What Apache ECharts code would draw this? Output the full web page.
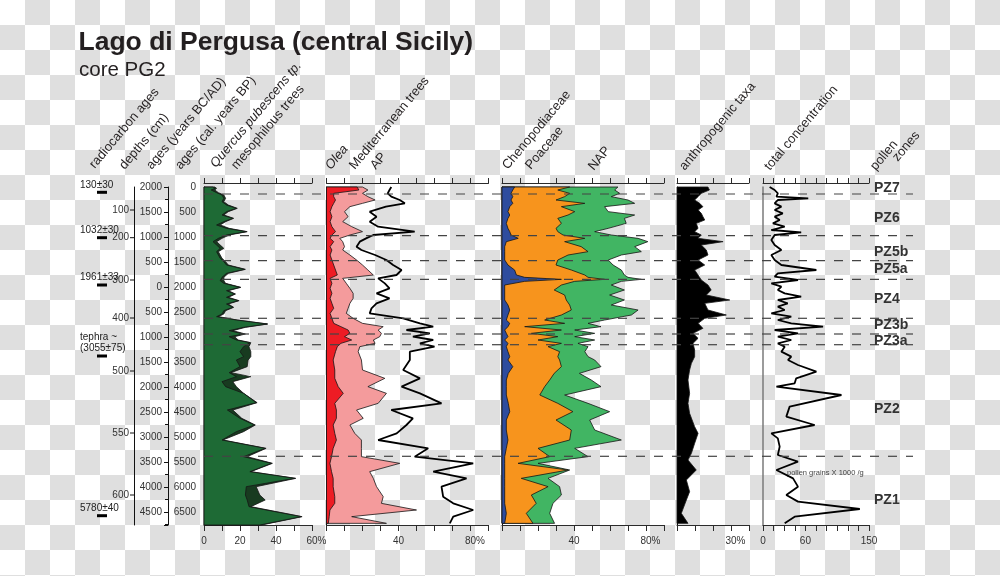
<!DOCTYPE html>
<html>
<head>
<meta charset="utf-8">
<script src="https://cdn.jsdelivr.net/npm/echarts@6/dist/echarts.min.js"></script>
<style>
  html, body { margin: 0; padding: 0; }
  body {
    width: 1000px; height: 576px;
    background-color: #fff;
    background-image: conic-gradient(#dfdfdf 25%, transparent 0 50%, #dfdfdf 0 75%, transparent 0);
    background-size: 50px 50px;
  }
  #chart-root { width: 1000px; height: 576px; }
</style>
</head>
<body>
<div id="chart-root"></div>
<script>
const FONT = '"Liberation Sans", Arial, Helvetica, sans-serif'
const AGE_MAX = 6760 // cal. years BP at the bottom axis

// Quercus pubescens tp. / mesophilous trees (%)
const quercusAges = [0, 27, 60, 113, 160, 227, 293, 360, 427, 493, 560, 627, 693, 760, 827, 893, 960, 1027, 1093, 1160,
  1227, 1293, 1360, 1427, 1493, 1560, 1647, 1727, 1807, 1873, 1927, 2007, 2073, 2140, 2207, 2273, 2340, 2407, 2473, 2540,
  2593, 2660, 2740, 2807, 2873, 2940, 2993, 3060, 3113, 3193, 3293, 3393, 3460, 3593, 3713, 3793, 3893, 3993, 4127, 4313,
  4460, 4627, 4760, 4893, 5060, 5227, 5393, 5527, 5693, 5827, 5993, 6160, 6260, 6393, 6593, 6760]
const quercus = [5, 6, 4, 7, 10, 11, 10, 12.5, 18, 12.5, 10, 16, 11, 7, 12.5, 23.5, 12.5, 8, 5, 7,
  9, 7, 8, 9, 11, 12.5, 22.5, 12.5, 10, 9, 11, 20, 12.5, 17, 12.5, 19, 12.5, 16, 11, 10,
  7, 18, 35, 22, 14, 22, 14, 18, 25.5, 22, 20, 22, 18, 20, 14, 18, 10, 12, 22, 29,
  13, 20, 28, 18, 10, 34, 22, 37.5, 25.5, 50.5, 23.5, 23, 24, 25, 54, 31]
const mesophilous = [6, 7, 6, 8, 11, 12, 11, 13.5, 18.5, 13.5, 11, 16.5, 12, 9, 14, 24, 14, 10, 7, 9,
  11, 8, 9, 10, 12, 13.5, 23, 13.5, 11, 11, 12, 20.5, 13.5, 17.5, 13.5, 19.5, 13.5, 16.5, 12, 11,
  8, 18.5, 35.5, 23, 16, 23, 17, 19, 26, 25, 26, 26, 24.5, 24, 15, 26, 16, 18, 22, 29.5,
  16, 21, 28.5, 22, 10.5, 34.5, 24, 38, 26, 51, 29, 31, 34, 26, 54.5, 32]

// Olea / Mediterranean trees / AP (%)
const medAges = [0, 60, 127, 193, 260, 327, 393, 493, 593, 693, 793, 893, 960, 1027, 1093, 1193, 1260, 1360, 1460, 1560,
  1660, 1760, 1827, 1927, 2027, 2127, 2227, 2327, 2427, 2527, 2627, 2727, 2793, 2860, 2927, 2993, 3060, 3127, 3193, 3293,
  3460, 3660, 3827, 3993, 4127, 4327, 4460, 4627, 4760, 4927, 5060, 5227, 5393, 5527, 5693, 5827, 5993, 6193, 6327, 6460,
  6593, 6727]
const olea = [17, 18, 4, 4, 5, 4, 3, 2, 3, 2, 3, 5, 3, 2, 4, 2, 3, 2, 3, 4,
  5, 6, 2, 3, 2, 3, 2, 3, 4, 2, 3, 4, 8, 12, 13, 10, 14, 8, 6, 5,
  3.7, 4.6, 4.6, 6.5, 9.3, 4.6, 5.5, 5.5, 3.7, 4.6, 5.5, 3.7, 2.8, 1.9, 2.8, 3.7, 3.7, 4.6, 4.6, 1.9,
  1.5, 1]
const medTrees = [20, 23, 20, 23, 27, 20, 13, 10, 12, 9, 14, 20, 13, 7.4, 9, 10, 9, 13, 16.7, 20,
  23, 26, 9, 11, 13, 14.8, 14.8, 13, 12, 11, 14.8, 20, 31.5, 28.7, 30.5, 29.6, 26, 27, 18.5, 17.6,
  19.4, 20, 32.4, 23, 33.3, 28.7, 16.7, 20.4, 13, 15.7, 19.4, 19.4, 19.4, 40.7, 24, 26, 27.8, 31.5, 30.5, 50,
  14, 33.3]
const ap = [36, 35, 34, 36, 40.7, 43.5, 33, 24, 27.8, 24, 28.7, 49, 26, 22, 18.5, 16.7, 19.4, 27, 33.3, 37,
  41.7, 38.9, 28.7, 32.4, 35, 27.8, 35, 27.8, 25, 24, 42.6, 51.9, 59.3, 44.4, 57.4, 48, 59.3, 51.9, 60, 46.3,
  46.3, 42.6, 51.9, 41.7, 51.9, 63.9, 36, 48, 44.4, 39, 28.7, 56.5, 49, 81.5, 59.3, 77.8, 63.9, 64.8, 70.4, 81.5,
  70.4, 68.5]

// Chenopodiaceae / Poaceae (stacked on Cheno.) / NAP (%)
const napAges = [0, 60, 127, 193, 260, 327, 393, 493, 560, 627, 727, 827, 893, 960, 1027, 1093, 1193, 1293, 1360, 1460,
  1560, 1660, 1760, 1807, 1847, 1887, 1960, 2060, 2160, 2260, 2360, 2460, 2560, 2660, 2727, 2793, 2860, 2927, 2993, 3060,
  3127, 3193, 3293, 3393, 3460, 3593, 3727, 3860, 3993, 4160, 4327, 4493, 4660, 4860, 5060, 5227, 5393, 5527, 5660, 5827,
  5993, 6160, 6327, 6527, 6727]
const cheno = [7, 6, 5, 6, 5, 6, 4.3, 3.3, 4.3, 3.3, 2.4, 3.3, 4.3, 5, 9, 2.4, 1.5, 1.5, 1.5, 1.5,
  3.3, 7, 8, 12.6, 33, 12.6, 1.5, 1.5, 1.5, 1.5, 3.3, 4.3, 3.3, 2.4, 4.3, 3.3, 1.5, 2.4, 3.3, 1.5,
  3.3, 2.4, 3.3, 4.3, 3.3, 6, 3.5, 2.4, 2.4, 2.4, 3.5, 4.3, 2.4, 2.4, 3.3, 2.4, 1.5, 1.5, 1.5, 1.5,
  1.5, 1.5, 1.5, 2.4, 1.5]
const chenoPoaceae = [37.6, 31, 37.6, 34.8, 30, 46, 33, 40.4, 36.7, 31, 33, 30, 31, 33.9, 46, 34.8, 44, 47.8, 36.7, 31,
  30, 38.5, 46, 47.8, 57, 40.4, 33, 29, 34.8, 35.7, 37.6, 38.5, 33, 23.7, 34.8, 12.6, 33, 16.3, 31, 20,
  33, 25.6, 32, 31, 32, 33, 29, 26.5, 23.7, 21, 31, 39.4, 30, 38.5, 37.6, 20, 26.5, 8.9, 36.7, 10.7,
  25.6, 16.3, 19, 13.5, 17.2]
const nap = [64.4, 62.6, 65.4, 60.7, 70, 73.7, 57, 59, 73.7, 68, 69, 59, 51.5, 60.7, 75.6, 81, 73.7, 77.4, 66.3, 59,
  61.7, 66.3, 68, 70, 77.4, 66.3, 60.7, 68, 59.8, 68, 60.7, 75.6, 71.9, 57, 47.8, 55, 40.4, 51.5, 40.4, 51.5,
  42.2, 47.8, 46, 47.8, 51.5, 55, 43, 49.6, 55, 34.8, 47.8, 59.8, 48.7, 51.5, 66.3, 40.4, 47.8, 20, 37.6, 25.6,
  32, 33, 28.3, 26.5, 29.2]

// anthropogenic taxa (%)
const anthroAges = [0, 60, 127, 193, 260, 327, 393, 460, 527, 593, 660, 727, 827, 893, 960, 1027, 1093, 1160, 1260, 1360,
  1460, 1560, 1660, 1760, 1860, 1960, 2060, 2160, 2260, 2327, 2460, 2560, 2627, 2727, 2827, 2927, 3027, 3127, 3260, 3393,
  3527, 3660, 3860, 4127, 4327, 4527, 4793, 4927, 5127, 5327, 5460, 5660, 5860, 6093, 6260, 6527, 6727]
const anthro = [17.2, 18, 13.5, 11.7, 9.8, 12.6, 14.4, 11.7, 13.5, 14.4, 15.4, 10.7, 11.7, 9.8, 13.5, 11.7, 25.6, 13.5, 16.3, 17.2,
  11.7, 15.4, 9.8, 11.7, 13.5, 17.2, 19, 16.3, 29.3, 15.4, 17.2, 27.4, 15.4, 11.7, 14.4, 8.9, 11.7, 8.9, 9.8, 9.8,
  8, 7, 6.1, 7, 6.1, 7, 9.8, 11.7, 9.8, 8, 6.1, 10.7, 5.2, 7, 5.2, 2.4, 6.1]

// total concentration (pollen grains x 1000 /g)
const concAges = [0, 60, 127, 193, 227, 260, 327, 393, 460, 527, 593, 660, 727, 793, 860, 907, 960, 1060, 1160, 1260,
  1360, 1460, 1560, 1660, 1727, 1793, 1860, 1927, 1993, 2060, 2127, 2193, 2260, 2327, 2393, 2460, 2527, 2593, 2660, 2727,
  2793, 2860, 2927, 2993, 3060, 3127, 3193, 3293, 3393, 3460, 3560, 3693, 3827, 3927, 3993, 4160, 4393, 4593, 4760, 4927,
  5027, 5193, 5360, 5493, 5660, 5827, 5993, 6160, 6293, 6440, 6593, 6727]
const conc = [9.4, 16.5, 21, 19, 64, 21, 16.5, 26, 16.5, 28, 16.5, 23.6, 14, 30.7, 11.8, 54, 16.5, 11.8, 16.5, 26,
  11.8, 16.5, 26, 75.5, 21, 16.5, 49.5, 11.8, 26, 21, 30.7, 54, 21, 35, 21, 30.7, 11.8, 40, 21, 40,
  85, 16.5, 49.5, 21, 40, 21, 30.7, 26, 40, 35.4, 49.5, 75.5, 47, 44.8, 19, 111, 37.7, 33, 73, 11.8,
  21, 23.6, 21, 49.5, 19, 42.5, 49.5, 33, 49.5, 137, 44.8, 30.7]

// pollen zones
const zoneBounds = [140, 974, 1474, 1846, 2626, 2940, 3154, 5386]
const zoneNames = ['PZ7', 'PZ6', 'PZ5b', 'PZ5a', 'PZ4', 'PZ3b', 'PZ3a', 'PZ2', 'PZ1']
const zoneLabelAges = [26, 626, 1294, 1646, 2246, 2760, 3074, 4446, 6260]

// depth scale (cm) and the cal. BP age where each tick sits
const depthTicks = [100, 200, 300, 400, 500, 550, 600]
const depthTickAges = [460, 1014, 1860, 2620, 3680, 4920, 6160]

// radiocarbon dates
const c14Labels = ['130±30', '1032±30', '1961±33', 'tephra ~\n(3055±75)', '5780±40']
const c14Ages = [106, 1014, 1960, 3380, 6574]

// bottom tick labels of each panel
const quercusTicks = ['0', '', '20', '', '40', '', '60%']
const apTicks = ['', '', '', '', '40', '', '', '', '80%', '']
const napTicks = ['', '', '', '', '40', '', '', '', '80%', '']
const anthroTicks = ['', '', '', '30%', '']
const concTicks = ['0', '', '', '', '60', '', '', '', '', '', '150']

const panels = [
  {left: 204, width: 108, max: 60, step: 10, labels: quercusTicks},
  {left: 326.5, width: 162, max: 90, step: 10, labels: apTicks},
  {left: 502, width: 162, max: 90, step: 10, labels: napTicks},
  {left: 677, width: 72, max: 40, step: 10, labels: anthroTicks},
  {left: 763, width: 106, max: 150, step: 15, labels: concTicks}
]

const headers = [
  ['radiocarbon ages', 97, 171, false],
  ['depths (cm)', 127, 172, false],
  ['ages (years BC/AD)', 154, 172, false],
  ['ages (cal. years BP)', 183, 172, false],
  ['Quercus pubescens tp.', 218, 170, true],
  ['mesophilous trees', 239, 172, false],
  ['Olea', 333, 172, true],
  ['Mediterranean trees', 357, 172, false],
  ['AP', 378, 172, false],
  ['Chenopodiaceae', 510, 172, false],
  ['Poaceae', 533, 172, false],
  ['NAP', 596, 173, false],
  ['anthropogenic taxa', 687, 173, false],
  ['total concentration', 772, 173, false],
  ['pollen', 878, 173, false],
  ['zones', 900, 164, false]
]

const TOP = 187
const BOTTOM = 51
const AXIS_COLOR = '#2b2b2b'
const LABEL_COLOR = '#333'

function ageAxis (gridIndex, extra) {
  return Object.assign({
    gridIndex,
    type: 'value',
    min: 0,
    max: AGE_MAX,
    interval: 500,
    inverse: true,
    axisLine: {show: false, onZero: false},
    axisTick: {show: false},
    axisLabel: {show: false},
    splitLine: {show: false}
  }, extra || {})
}

function hiddenX (gridIndex) {
  return {gridIndex, type: 'value', min: 0, max: 1, show: false, splitLine: {show: false}}
}

// filled curve drawn as one polygon, closed back to the zero line
function areaSeries (vals, ages, color, xAxisIndex, yAxisIndex) {
  return {
    type: 'custom',
    xAxisIndex,
    yAxisIndex,
    silent: true,
    z: 2,
    data: ages.map((a, i) => [vals[i], a]),
    renderItem: (params, api) => {
      if (params.dataIndex !== 0) return null
      let pts = [api.coord([0, ages[0]])]
      ages.forEach((a, i) => pts.push(api.coord([vals[i], a])))
      pts.push(api.coord([0, ages[ages.length - 1]]))
      return {
        type: 'polygon',
        shape: {points: pts},
        style: {fill: color, stroke: '#151515', lineWidth: 0.8}
      }
    }
  }
}

function curveSeries (vals, ages, xAxisIndex, yAxisIndex) {
  return {
    type: 'line',
    xAxisIndex,
    yAxisIndex,
    silent: true,
    z: 3,
    showSymbol: false,
    data: ages.map((a, i) => [vals[i], a]),
    lineStyle: {color: '#000', width: 1.8}
  }
}

let grid = []
let xAxis = []
let yAxis = []

panels.forEach((p, i) => {
  grid.push({left: p.left, width: p.width, top: TOP, bottom: BOTTOM})
  let common = {
    gridIndex: i,
    type: 'value',
    min: 0,
    max: p.max,
    interval: p.step,
    splitLine: {show: false},
    axisLine: {onZero: false, lineStyle: {color: AXIS_COLOR, width: 1}}
  }
  xAxis.push(Object.assign({}, common, {
    position: 'top',
    offset: 4,
    axisTick: {length: 5, lineStyle: {color: AXIS_COLOR}},
    axisLabel: {show: false}
  }))
  xAxis.push(Object.assign({}, common, {
    position: 'bottom',
    axisTick: {length: 6, lineStyle: {color: AXIS_COLOR}},
    axisLabel: {
      fontSize: 10,
      fontFamily: FONT,
      color: LABEL_COLOR,
      margin: 11,
      formatter: v => {
        let s = p.labels[Math.round(v / p.step)] || ''
        return s.endsWith('%') ? '{p|' + s + '}' : s
      },
      rich: {p: {padding: [0, 0, 0, 9], fontSize: 10, fontFamily: FONT, color: LABEL_COLOR}}
    }
  }))
  yAxis.push(ageAxis(i, {
    axisLine: {
      show: true,
      onZero: false,
      lineStyle: {color: i === 4 ? '#7a7a7a' : '#111', width: i === 4 ? 1.5 : 1}
    },
    axisLabel: {
      show: i === 0,
      fontSize: 10,
      fontFamily: FONT,
      color: LABEL_COLOR,
      margin: 8,
      formatter: v => (v % 500 ? '' : String(v))
    }
  }))
})

// 5: overlay for zone boundaries, 6: zone labels, 7: BC/AD scale, 8: depth scale, 9: radiocarbon dates
grid.push({left: 204, width: 709, top: TOP, bottom: BOTTOM})
grid.push({left: 874, width: 40, top: TOP, bottom: BOTTOM})
grid.push({left: 168, width: 10, top: TOP, bottom: BOTTOM})
grid.push({left: 134, width: 10, top: TOP, bottom: BOTTOM})
grid.push({left: 80, width: 40, top: TOP, bottom: BOTTOM})
for (let g = 5; g <= 9; g++) xAxis.push(hiddenX(g))
yAxis.push(ageAxis(5))
yAxis.push(ageAxis(6))
yAxis.push(ageAxis(7, {
  axisLine: {show: true, onZero: false, lineStyle: {color: '#111'}},
  axisTick: {show: true, length: 4, lineStyle: {color: '#111'}},
  minorTick: {show: true, splitNumber: 2, length: 3, lineStyle: {color: '#111'}},
  axisLabel: {
    show: true,
    fontSize: 10,
    fontFamily: FONT,
    color: LABEL_COLOR,
    margin: 6,
    formatter: v => (v % 500 ? '' : String(Math.abs(2000 - v)))
  }
}))
yAxis.push(ageAxis(8, {axisLine: {show: true, onZero: false, lineStyle: {color: '#111'}}}))
yAxis.push(ageAxis(9))

let series = [
  areaSeries(mesophilous, quercusAges, '#183b20', 1, 0),
  areaSeries(quercus, quercusAges, '#1e6a35', 1, 0),
  areaSeries(medTrees, medAges, '#f49b9c', 3, 1),
  areaSeries(olea, medAges, '#ed1c24', 3, 1),
  curveSeries(ap, medAges, 3, 1),
  areaSeries(nap, napAges, '#41b563', 5, 2),
  areaSeries(chenoPoaceae, napAges, '#f7941d', 5, 2),
  areaSeries(cheno, napAges, '#2e4c9e', 5, 2),
  areaSeries(anthro, anthroAges, '#000', 7, 3),
  curveSeries(conc, concAges, 9, 4),
  {
    // zone boundaries
    type: 'custom',
    xAxisIndex: 10,
    yAxisIndex: 5,
    silent: true,
    z: 5,
    data: zoneBounds.map(a => [0, a]),
    renderItem: (params, api) => {
      let a = api.value(1)
      let p0 = api.coord([0, a])
      let p1 = api.coord([1, a])
      return {
        type: 'line',
        shape: {x1: p0[0], y1: p0[1], x2: p1[0], y2: p1[1]},
        style: {stroke: '#444', lineWidth: 1.2, lineDash: [9, 9]}
      }
    }
  },
  {
    type: 'custom',
    xAxisIndex: 11,
    yAxisIndex: 6,
    silent: true,
    z: 6,
    data: zoneLabelAges.map(a => [0, a]),
    renderItem: (params, api) => {
      let p = api.coord([0, api.value(1)])
      return {
        type: 'text',
        x: p[0],
        y: p[1],
        style: {
          text: zoneNames[params.dataIndex],
          fontSize: 14,
          fontWeight: 'bold',
          fontFamily: FONT,
          fill: '#333',
          align: 'left',
          verticalAlign: 'middle'
        }
      }
    }
  },
  {
    // depth ticks
    type: 'custom',
    xAxisIndex: 13,
    yAxisIndex: 8,
    silent: true,
    data: depthTickAges.map(a => [0, a]),
    renderItem: (params, api) => {
      let p = api.coord([0, api.value(1)])
      return {
        type: 'group',
        children: [
          {type: 'line', shape: {x1: p[0] - 4, y1: p[1], x2: p[0], y2: p[1]}, style: {stroke: '#111', lineWidth: 1}},
          {
            type: 'text',
            x: p[0] - 5,
            y: p[1],
            style: {
              text: String(depthTicks[params.dataIndex]),
              fontSize: 10,
              fontFamily: FONT,
              fill: LABEL_COLOR,
              align: 'right',
              verticalAlign: 'middle'
            }
          }
        ]
      }
    }
  },
  {
    // radiocarbon dates
    type: 'custom',
    xAxisIndex: 14,
    yAxisIndex: 9,
    silent: true,
    data: c14Ages.map(a => [0, a]),
    renderItem: (params, api) => {
      let p = api.coord([0, api.value(1)])
      return {
        type: 'group',
        children: [
          {type: 'rect', shape: {x: p[0] + 17, y: p[1] - 1.5, width: 10, height: 3}, style: {fill: '#000'}},
          {
            type: 'text',
            x: p[0],
            y: p[1] - 2,
            style: {
              text: c14Labels[params.dataIndex],
              fontSize: 10,
              fontFamily: FONT,
              fill: '#222',
              lineHeight: 11,
              align: 'left',
              verticalAlign: 'bottom'
            }
          }
        ]
      }
    }
  }
]

let graphic = [
  {
    type: 'text',
    x: 78.5,
    y: 42.5,
    style: {text: 'Lago di Pergusa (central Sicily)', font: 'bold 26.5px ' + FONT, fill: '#231f20', verticalAlign: 'middle'}
  },
  {
    type: 'text',
    x: 79,
    y: 70,
    style: {text: 'core PG2', font: '20.5px ' + FONT, fill: '#231f20', verticalAlign: 'middle'}
  },
  {
    type: 'text',
    x: 787,
    y: 473,
    style: {text: 'pollen grains X 1000 /g', font: '7.5px ' + FONT, fill: '#444', verticalAlign: 'middle'}
  }
]
headers.forEach(([text, x, y, italic]) => {
  graphic.push({
    type: 'text',
    x,
    y,
    rotation: 50 * Math.PI / 180,
    style: {
      text,
      font: (italic ? 'italic ' : '') + '13px ' + FONT,
      fill: '#231f20',
      align: 'left',
      verticalAlign: 'bottom'
    }
  })
})

let chart = echarts.init(document.getElementById('chart-root'))
chart.setOption({
  animation: false,
  grid,
  xAxis,
  yAxis,
  series,
  graphic
})
</script>
</body>
</html>
